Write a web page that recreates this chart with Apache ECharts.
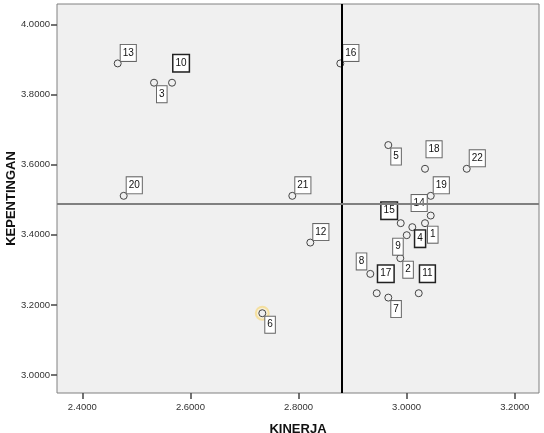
<!DOCTYPE html>
<html>
<head>
<meta charset="utf-8">
<script src="https://cdn.jsdelivr.net/npm/echarts@6/dist/echarts.min.js"></script>
<style>
html,body{margin:0;padding:0;background:#fff;}
#chart{width:544px;height:433px;}
</style>
</head>
<body>
<div id="chart"></div>
<script>
// ---- data ----
var ids = [1,2,3,4,5,6,7,8,9,10,11,12,13,14,15,16,17,18,19,20,21,22];
var kinerja = [3.034,2.9883,2.5327,3.0105,2.9661,2.733,2.9661,2.9328,3.0002,2.566,3.0224,2.8218,2.4655,3.0446,2.9891,2.8773,2.9447,3.034,3.0446,2.4766,2.7885,3.1112];
var kepentingan = [3.4334,3.3334,3.8343,3.422,3.6563,3.1763,3.2209,3.2886,3.3991,3.8343,3.2334,3.378,3.8894,3.4551,3.4334,3.8894,3.2334,3.5886,3.5114,3.5114,3.5114,3.5886];
var xTicks = [2.4,2.6,2.8,3.0,3.2];
var yTicks = [3.0,3.2,3.4,3.6,3.8,4.0];
var meanKinerja = 2.88;
var meanKepentingan = 3.4934;
var highlightedIds = [6];

// ---- label layout (placement of each id label relative to its point) ----
var placement = ['dr','dr','dr','dr','dr','dr','dr','ul','dl','u','u','ur','ur','ul','ul','ur','u','u','ur','ur','ur','ur'];
var darkLabelIds = [4,10,11,15,17];
var placeCfg = {
  ur:{position:[7,1.5],align:'left',verticalAlign:'bottom'},
  u:{position:[5.5,-7.5],align:'left',verticalAlign:'bottom'},
  dr:{position:[7,7.5],align:'left',verticalAlign:'top'},
  ul:{position:[0,-0.5],align:'right',verticalAlign:'bottom'},
  dl:{position:[0,7.5],align:'right',verticalAlign:'top'}
};

var pts = ids.map(function(id,i){
  var c = placeCfg[placement[i]];
  var dark = darkLabelIds.indexOf(id) >= 0;
  return {
    name: String(id),
    value: [kinerja[i], kepentingan[i]],
    label: {
      show: true,
      formatter: String(id),
      position: c.position,
      align: c.align,
      verticalAlign: c.verticalAlign,
      fontFamily: 'Liberation Sans, Arial, sans-serif',
      fontSize: 10,
      lineHeight: 12,
      color: '#111',
      backgroundColor: '#ffffff',
      borderColor: dark ? '#222' : '#666',
      borderWidth: dark ? 1.5 : 1,
      padding: [2,2,2,2]
    }
  };
});

var glowPts = ids.filter(function(id){return highlightedIds.indexOf(id)>=0;}).map(function(id){
  var i = ids.indexOf(id);
  return [kinerja[i], kepentingan[i]];
});

var font = 'Liberation Sans, Arial, sans-serif';
var chart = echarts.init(document.getElementById('chart'), null, {renderer:'canvas'});
chart.setOption({
  animation: false,
  grid: {
    left: 57, top: 4, right: 5, bottom: 40,
    outerBoundsMode: 'none', containLabel: false,
    show: true, backgroundColor: '#f0f0f0', borderColor: '#808080', borderWidth: 1
  },
  xAxis: {
    type: 'value', min: 2.3532, max: 3.2449,
    name: 'KINERJA', nameLocation: 'middle', nameGap: 30, nameMoveOverlap: false,
    nameTextStyle: {fontFamily: font, fontSize: 13, fontWeight: 'bold', color: '#111'},
    axisLine: {show: false},
    splitLine: {show: false},
    axisTick: {show: true, customValues: xTicks, length: 6, lineStyle: {color: '#444', width: 1.5}},
    axisLabel: {customValues: xTicks, margin: 9, fontFamily: font, fontSize: 9.5, color: '#333',
      formatter: function(v){return v.toFixed(4);}}
  },
  yAxis: {
    type: 'value', min: 2.9486, max: 4.059,
    name: 'KEPENTINGAN', nameLocation: 'middle', nameGap: 39, nameMoveOverlap: false,
    nameTextStyle: {fontFamily: font, fontSize: 13, fontWeight: 'bold', color: '#111'},
    axisLine: {show: false},
    splitLine: {show: false},
    axisTick: {show: true, customValues: yTicks, length: 6, lineStyle: {color: '#444', width: 1.5}},
    axisLabel: {customValues: yTicks, margin: 7, fontFamily: font, fontSize: 9.5, color: '#333',
      formatter: function(v){return v.toFixed(4);}}
  },
  series: [
    {
      type: 'scatter', data: [], silent: true, z: 1,
      markLine: {
        silent: true, symbol: 'none', label: {show: false}, animation: false,
        data: [
          {xAxis: meanKinerja, lineStyle: {color: '#000', width: 2, type: 'solid'}},
          {yAxis: meanKepentingan, lineStyle: {color: '#808080', width: 2, type: 'solid'}}
        ]
      }
    },
    {
      type: 'scatter', data: glowPts, symbol: 'circle', symbolSize: 13, silent: true, z: 2,
      itemStyle: {color: 'rgba(255,240,190,0.6)', borderColor: 'rgba(245,215,120,0.8)', borderWidth: 2}
    },
    {
      type: 'scatter', data: pts, symbol: 'circle', symbolSize: 7, z: 3,
      itemStyle: {color: '#f0f0f0', borderColor: '#444', borderWidth: 1, opacity: 1},
      labelLayout: {hideOverlap: false}
    }
  ]
});
</script>
</body>
</html>
